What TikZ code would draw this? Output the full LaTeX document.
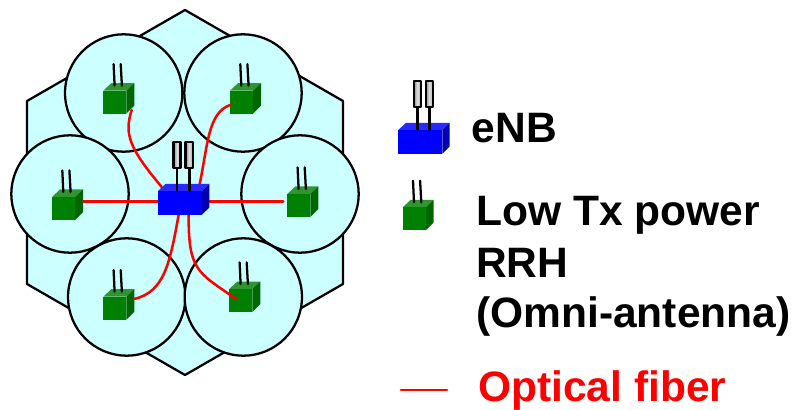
\documentclass[tikz,border=0pt]{standalone}
\usepackage{fontspec}
\setmainfont{Liberation Sans}
\definecolor{cellcyan}{HTML}{CCFFFF}
\definecolor{rrhfront}{HTML}{008000}
\definecolor{rrhtop}{HTML}{2E962E}
\definecolor{rrhside}{HTML}{006600}
\definecolor{enbtop}{HTML}{2A2AFF}
\definecolor{enbside}{HTML}{0000B0}
\tikzset{
	cell/.style={circle,draw,fill=cellcyan,line width=1.7pt,minimum size=88pt,inner sep=0pt},
	fiber/.style={draw=red,line width=1.9pt},
	legendtext/.style={anchor=base west,inner sep=0pt,font=\fontsize{31.9}{36}\selectfont\bfseries},
	antennabox/.style={line width=1.7pt,left color=gray!90,right color=gray!70,middle color=gray!25},
}
% cube with thin antennas, corner is the top left of the front face
\newcommand{\rrhcube}[2]{
	\begin{scope}[shift={(#1,#2)}]
		\fill[rrhtop] (0,0)--(8,-7.5)--(31,-7.5)--(23,0)--cycle;
		\fill[rrhside] (23,0)--(31,-7.5)--(31,15)--(23,23)--cycle;
		\fill[rrhfront] (0,0) rectangle (23,23);
		\draw[line width=1.7pt] (11.3,-5) -- (10.3,-26.6) (18.6,-5) -- (17.4,-26.6);
	\end{scope}
}
% cube with two boxed antennas
\newcommand{\enbcube}[2]{
	\begin{scope}[shift={(#1,#2)}]
		\fill[enbtop] (0,0)--(7.5,-7)--(51.3,-7)--(44,0)--cycle;
		\fill[enbside] (44,0)--(51.3,-7)--(51.3,16.5)--(44,23.7)--cycle;
		\fill[blue] (0,0) rectangle (44,23.7);
		\draw[line width=2.1pt] (19,-0.5) -- (19,-21.7) (31.3,-0.5) -- (31.3,-21.7);
		\draw[antennabox] (15.4,-49.2) rectangle (22.6,-22.8);
		\draw[antennabox] (27.4,-49.2) rectangle (34.9,-22.8);
	\end{scope}
}
\begin{document}
\begin{tikzpicture}[x=0.75pt,y=-0.75pt,line join=round,line cap=round]
	\useasboundingbox (0,0) rectangle (794,410);
	%Hexagon
	\draw[fill=cellcyan,line width=1.7pt] (185,10)--(343,101)--(343,284)--(185,375)--(27,284)--(27,101)--cycle;
	%Cells
	\node[cell] (cellA) at (123.7,93) {};
	\node[cell] (cellB) at (243,93) {};
	\node[cell] (cellC) at (70,194) {};
	\node[cell] (cellD) at (300,194) {};
	\node[cell] (cellE) at (126.7,297) {};
	\node[cell] (cellF) at (243.3,297) {};
	%RRH
	\rrhcube{103.3}{90.7}
	\rrhcube{230}{90.7}
	\rrhcube{52}{197}
	\rrhcube{287.3}{194}
	\rrhcube{103.3}{296.7}
	\rrhcube{229.3}{289}
	\coordinate (rrhA) at (131.7,110);
	\coordinate (rrhB) at (230,105);
	\coordinate (rrhC) at (83.3,201.5);
	\coordinate (rrhD) at (283.3,201.5);
	\coordinate (rrhE) at (134,299);
	\coordinate (rrhF) at (236,299);
	\coordinate (enbA) at (161.7,187);
	\coordinate (enbB) at (199.3,186);
	\coordinate (enbC) at (160,201.5);
	\coordinate (enbD) at (207,201.5);
	\coordinate (enbE) at (179,213);
	\coordinate (enbF) at (188.7,213);
	%Fiber
	\draw[fiber] (rrhA) .. controls (124,134) and (129,148) .. (enbA);
	\draw[fiber] (rrhB) .. controls (208,113) and (208,144) .. (enbB);
	\draw[fiber] (rrhC) -- (enbC);
	\draw[fiber] (enbD) -- (rrhD);
	\draw[fiber] (enbE) .. controls (170,262) and (165,292) .. (rrhE);
	\draw[fiber] (enbF) .. controls (188,272) and (198,272) .. (rrhF);
	%eNB
	\enbcube{158}{191}
	%Legend
	\enbcube{398.3}{130}
	\rrhcube{402.7}{207.3}
	\coordinate (fiberL) at (401,390);
	\coordinate (fiberR) at (447,390);
	\draw[fiber] (fiberL) -- (fiberR);
	\node[legendtext] (enbtext) at (471.5,143) {eNB};
	\node[legendtext] (rrhtextA) at (476,226) {Low Tx power};
	\node[legendtext] (rrhtextB) at (476,277) {RRH};
	\node[legendtext] (rrhtextC) at (476,327) {(Omni-antenna)};
	\node[legendtext,red] (fibertext) at (478,402) {Optical fiber};
\end{tikzpicture}
\end{document}
